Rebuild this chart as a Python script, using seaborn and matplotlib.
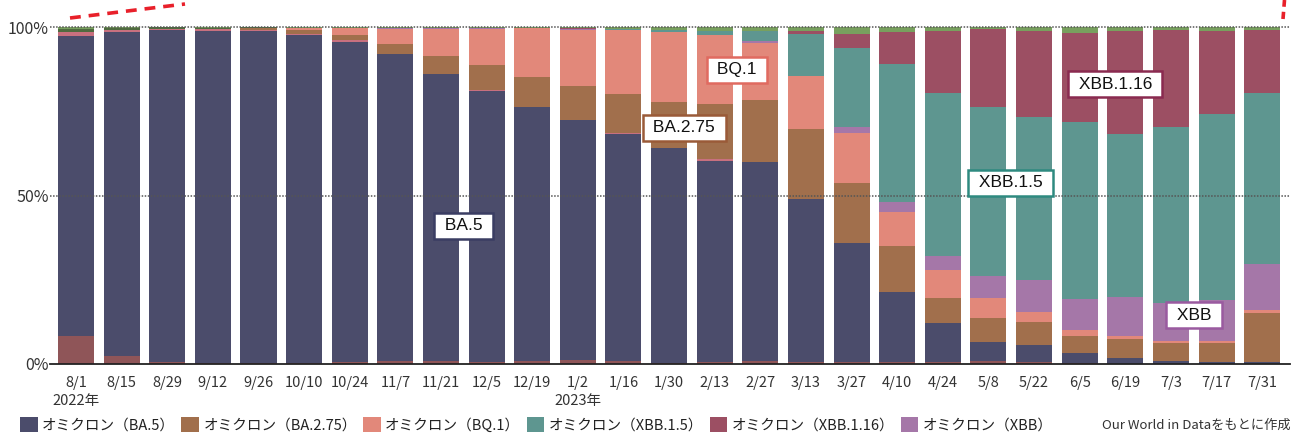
import pandas as pd
import matplotlib.pyplot as plt
from matplotlib.lines import Line2D
from matplotlib.patches import Patch
import seaborn as sns

# dates (2-week steps), 2022/8/1 .. 2023/7/31
dates = ["8/1", "8/15", "8/29", "9/12", "9/26", "10/10", "10/24", "11/7", "11/21",
         "12/5", "12/19", "1/2", "1/16", "1/30", "2/13", "2/27", "3/13", "3/27",
         "4/10", "4/24", "5/8", "5/22", "6/5", "6/19", "7/3", "7/17", "7/31"]
tick_labels = [d + "\n2022年" if d == "8/1" else d + "\n2023年" if d == "1/2" else d
               for d in dates]

# shares in %, bottom -> top
bottom_other = [8.2, 2.5, 0.7, 0.2, 0.4, 0.4, 0.5, 0.8, 0.8, 0.5, 0.8, 1.2, 0.8, 0.3,
                0.5, 0.8, 0.5, 0.5, 0.5, 0.5, 0.8, 0.5, 0.2, 0, 0, 0, 0]
ba5 = [89.1, 96.0, 98.4, 98.6, 98.4, 97.2, 95.1, 91.3, 85.4, 80.5, 75.5, 71.3, 67.5, 63.8,
       59.8, 59.1, 48.4, 35.3, 20.8, 11.8, 5.6, 5.0, 3.0, 1.9, 1.0, 0.5, 0.5]
pink_other = [1.2, 0.6, 0.2, 0.5, 0.4, 0.3, 0.5, 0, 0, 0.4, 0, 0, 0.2, 0,
              0.4, 0, 0, 0, 0, 0, 0, 0, 0, 0, 0, 0, 0]
ba275 = [0, 0, 0, 0, 0.4, 1.2, 1.5, 2.9, 5.2, 7.3, 8.9, 10.0, 11.6, 13.7,
         16.5, 18.5, 20.9, 18.0, 13.8, 7.4, 7.3, 7.0, 5.2, 5.6, 5.3, 5.8, 14.7]
bq1 = [0, 0, 0, 0, 0, 0.6, 2.0, 4.4, 8.0, 10.6, 14.4, 16.7, 19.1, 20.7,
       20.4, 17.0, 15.8, 14.8, 10.1, 8.3, 6.0, 3.0, 1.8, 0.9, 0.6, 0.6, 0.9]
xbb = [0, 0, 0, 0, 0, 0, 0.2, 0.3, 0.3, 0.3, 0.2, 0.3, 0, 0,
       0, 0.3, 0, 1.7, 2.9, 4.1, 6.5, 9.5, 9.2, 11.6, 11.3, 12.2, 13.6]
xbb15 = [0, 0, 0, 0, 0, 0, 0, 0, 0, 0, 0, 0, 0.3, 0.6,
         1.2, 3.1, 12.3, 23.5, 40.9, 48.3, 50.1, 48.3, 52.4, 48.3, 52.2, 55.1, 50.7]
xbb116 = [0, 0, 0, 0, 0, 0, 0, 0, 0, 0, 0, 0.2, 0, 0,
          0, 0, 0.8, 4.1, 9.5, 18.4, 23.0, 25.5, 26.3, 30.5, 28.7, 24.6, 18.7]
dark_other = [0.8, 0.6, 0.6, 0.5, 0.4, 0, 0, 0, 0, 0, 0, 0, 0, 0,
              0, 0, 0, 0, 0, 0, 0, 0, 0, 0, 0, 0, 0]
green_other = [0.7, 0.3, 0.1, 0.2, 0.0, 0.3, 0.2, 0.3, 0.3, 0.4, 0.2, 0.3, 0.5, 0.9,
               1.2, 1.2, 1.3, 2.1, 1.5, 1.2, 0.7, 1.2, 1.9, 1.2, 0.9, 1.2, 0.9]

colors = {
    "bottom_other": "#8f5558",
    "ba5": "#4b4c6b",
    "pink_other": "#c8707f",
    "ba275": "#a16f4c",
    "bq1": "#e2887a",
    "xbb": "#a577a8",
    "xbb15": "#5e9690",
    "xbb116": "#9c4f63",
    "dark_other": "#4f6b3f",
    "green_other": "#78a05e",
}

df = pd.DataFrame({
    "bottom_other": bottom_other, "ba5": ba5, "pink_other": pink_other,
    "ba275": ba275, "bq1": bq1, "xbb": xbb, "xbb15": xbb15, "xbb116": xbb116,
    "dark_other": dark_other, "green_other": green_other,
}, index=dates)
cum = df.cumsum(axis=1)

sns.set_theme(style="white")
plt.rcParams["font.family"] = ["Noto Sans CJK JP", "DejaVu Sans"]

fig = plt.figure(figsize=(12.93, 4.34), dpi=100)
ax = fig.add_axes([50 / 1293, 70 / 434, 1240 / 1293, 337 / 434])

# draw cumulative tops from the highest down so each layer covers the one above
for col in reversed(df.columns):
    sns.barplot(x=dates, y=cum[col].values, order=dates, color=colors[col],
                saturation=1, width=0.79, linewidth=0, errorbar=None, ax=ax)

ax.set_xlim(-0.57, 26.61)
ax.set_ylim(0, 100)
for yv in (50, 100):
    ax.axhline(yv, color="#555555", lw=1.1, ls=(0, (1, 1)), zorder=5, clip_on=False)

for s in ["top", "right", "left"]:
    ax.spines[s].set_visible(False)
ax.spines["bottom"].set_color("#222222")
ax.spines["bottom"].set_linewidth(1.3)

ax.set_yticks([0, 50, 100])
ax.set_yticklabels(["0%", "50%", "100%"], fontsize=11.5, color="#333333")
ax.set_xticks(range(len(dates)))
ax.set_xticklabels(tick_labels, fontsize=10.5, color="#333333", linespacing=1.35,
                   va="top")
ax.tick_params(axis="x", length=0, pad=9)
ax.tick_params(axis="y", length=0, pad=1)
ax.set_xlabel("")
ax.set_ylabel("")

# variant labels
labels = [
    ("BA.5", 8.49, 41.0, "#3a3d63"),
    ("BQ.1", 14.49, 87.3, "#e06a60"),
    ("BA.2.75", 13.33, 70.1, "#9a5a38"),
    ("XBB.1.5", 20.48, 53.8, "#2e8a80"),
    ("XBB.1.16", 22.78, 83.0, "#8a2a50"),
    ("XBB", 24.51, 14.5, "#9a5aa0"),
]
for txt, x, y, ec in labels:
    ax.text(x, y, " " + txt + " ", ha="center", va="center", fontsize=12.5,
            family="Liberation Sans", color="#111111", zorder=10,
            bbox=dict(boxstyle="square,pad=0.32", fc="white", ec=ec, lw=1.8))

# legend
leg_names = ["オミクロン（BA.5）", "オミクロン（BA.2.75）", "オミクロン（BQ.1）",
             "オミクロン（XBB.1.5）", "オミクロン（XBB.1.16）", "オミクロン（XBB）"]
leg_keys = ["ba5", "ba275", "bq1", "xbb15", "xbb116", "xbb"]
handles = [Patch(fc=colors[k], ec="none") for k in leg_keys]
fig.legend(handles, leg_names, loc="center left", bbox_to_anchor=(20 / 1293, 9 / 434),
           ncol=6, frameon=False, fontsize=10.5, handlelength=1.2, handleheight=1.2,
           handletextpad=0.3, columnspacing=0.45, borderpad=0, borderaxespad=0,
           labelcolor="#222222")

fig.text(1291 / 1293, 9 / 434, "Our World in Dataをもとに作成", ha="right", va="center",
         fontsize=9.5, color="#333333")

# red dashed highlight edges at the very top
fig.add_artist(Line2D([70 / 1293, 185 / 1293], [(434 - 18) / 434, (434 - 4) / 434],
                      color="#e8202a", lw=2.6, ls=(0, (3, 2.2))))
fig.add_artist(Line2D([1283 / 1293, 1284.5 / 1293], [(434 - 19) / 434, 1.0],
                      color="#e8202a", lw=2.6, ls=(0, (2, 1.4))))

fig.savefig("out.png", dpi=100, facecolor="white")
